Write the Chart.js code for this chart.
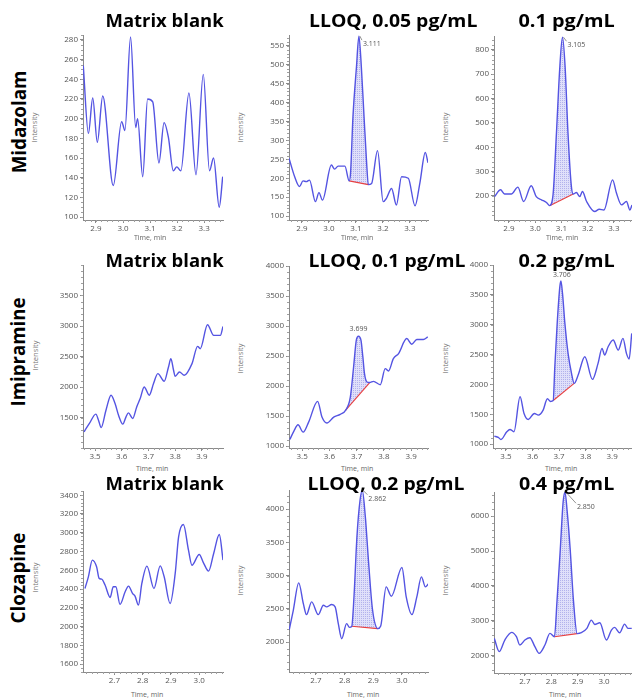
<!DOCTYPE html>
<html><head><meta charset="utf-8">
<script src="https://cdn.jsdelivr.net/npm/chart.js@4.4.1/dist/chart.umd.min.js"></script>
<style>
html,body{margin:0;padding:0;background:#fff;}
body{width:632px;height:698px;overflow:hidden;position:relative;font-family:'Open Sans',sans-serif;}
canvas{position:absolute;z-index:1;}
.tt{position:absolute;z-index:3;font-weight:700;font-size:18px;line-height:18px;white-space:nowrap;color:#000;transform-origin:50% 50%;}
.rl{position:absolute;z-index:3;font-weight:700;font-size:20px;line-height:20px;white-space:nowrap;color:#000;}
.it{position:absolute;z-index:2;font-size:6.5px;line-height:7px;color:#777;white-space:nowrap;}
.tm{position:absolute;z-index:2;font-size:7px;line-height:8px;color:#666;white-space:nowrap;}
</style></head>
<body>
<script>
// ---------------- DATA ----------------
const rowLabels = ['Midazolam', 'Imipramine', 'Clozapine'];
const panelTitles = ['Matrix blank', 'LLOQ, 0.05 pg/mL', '0.1 pg/mL',
                     'Matrix blank', 'LLOQ, 0.1 pg/mL', '0.2 pg/mL',
                     'Matrix blank', 'LLOQ, 0.2 pg/mL', '0.4 pg/mL'];
const xAxisTitle = 'Time, min';
const yAxisTitle = 'Intensity';

const timeTicksMidazolam = [2.9, 3.0, 3.1, 3.2, 3.3];
const timeTicksImipramine = [3.5, 3.6, 3.7, 3.8, 3.9];
const timeTicksClozapine = [2.7, 2.8, 2.9, 3.0];

// Midazolam, matrix blank
const midBlankTime = [2.853,2.872,2.888,2.905,2.925,2.964,2.995,3.007,3.028,3.047,3.054,3.073,3.091,3.110,3.133,3.152,3.168,3.186,3.199,3.214,3.244,3.270,3.297,3.320,3.335,3.356,3.369];
const midBlankIntensity = [254,185,221,176,223,132,197,188,283,191,200,141,220,217,155,196,181,147,151,147,226,143,245,147,160,110,141];
const midBlankYTicks = [100,120,140,160,180,200,220,240,260,280];

// Midazolam, LLOQ 0.05 pg/mL
const midLloqTime = [2.852,2.873,2.891,2.904,2.916,2.928,2.950,2.963,2.976,3.009,3.021,3.034,3.059,3.075,3.080,3.089,3.102,3.111,3.120,3.130,3.139,3.146,3.158,3.180,3.201,3.213,3.232,3.250,3.269,3.294,3.319,3.337,3.357,3.367];
const midLloqIntensity = [253,204,178,193,191,195,138,162,142,235,224,232,232,193,213,363,495,576,495,363,248,183,186,273,138,147,173,129,204,200,127,188,268,241];
const midLloqBaseTime = [3.075, 3.146];
const midLloqBaseIntensity = [193, 183];
const midLloqPeakLabel = '3.111';
const midLloqYTicks = [100,150,200,250,300,350,400,450,500,550];

// Midazolam, 0.1 pg/mL
const midHighTime = [2.845,2.868,2.883,2.909,2.934,2.956,2.985,3.004,3.024,3.043,3.055,3.068,3.081,3.094,3.104,3.114,3.125,3.138,3.145,3.157,3.170,3.180,3.196,3.227,3.244,3.262,3.295,3.310,3.329,3.348,3.361,3.369];
const midHighIntensity = [197,225,208,208,236,177,242,197,184,173,160,204,458,732,852,732,458,238,208,214,197,218,177,136,145,142,266,211,163,177,142,163];
const midHighBaseTime = [3.055, 3.145];
const midHighBaseIntensity = [160, 208];
const midHighPeakLabel = '3.105';
const midHighYTicks = [200,300,400,500,600,700,800];

// Imipramine, matrix blank
const imiBlankTime = [3.459,3.479,3.503,3.513,3.523,3.541,3.560,3.575,3.588,3.604,3.616,3.625,3.641,3.656,3.669,3.684,3.703,3.719,3.735,3.759,3.775,3.784,3.794,3.800,3.816,3.834,3.863,3.884,3.894,3.921,3.944,3.969,3.979];
const imiBlankIntensity = [1266,1402,1555,1456,1336,1620,1865,1729,1537,1391,1511,1576,1484,1674,1810,2001,1865,2056,2219,2094,2328,2465,2274,2176,2247,2192,2383,2666,2628,3020,2846,2846,2993];
const imiBlankYTicks = [1500,2000,2500,3000,3500];

// Imipramine, LLOQ 0.1 pg/mL
const imiLloqTime = [3.455,3.470,3.485,3.504,3.524,3.557,3.573,3.591,3.616,3.640,3.660,3.677,3.689,3.699,3.707,3.716,3.723,3.729,3.738,3.748,3.762,3.787,3.805,3.817,3.835,3.854,3.884,3.902,3.921,3.945,3.961];
const imiLloqIntensity = [1112,1251,1357,1234,1401,1746,1485,1385,1485,1530,1600,1818,2319,2765,2831,2765,2486,2208,2069,2060,2080,2024,2292,2253,2459,2542,2792,2698,2776,2776,2820];
const imiLloqBaseTime = [3.660, 3.748];
const imiLloqBaseIntensity = [1600, 2060];
const imiLloqPeakLabel = '3.699';
const imiLloqYTicks = [1000,1500,2000,2500,3000,3500,4000];

// Imipramine, 0.2 pg/mL
const imiHighTime = [3.456,3.471,3.481,3.503,3.515,3.530,3.553,3.568,3.584,3.607,3.622,3.640,3.656,3.668,3.678,3.684,3.693,3.703,3.707,3.713,3.722,3.734,3.747,3.757,3.772,3.797,3.826,3.847,3.862,3.872,3.885,3.904,3.923,3.941,3.954,3.964,3.974];
const imiHighIntensity = [1134,1112,1078,1207,1246,1207,1793,1514,1413,1514,1486,1570,1760,1715,1730,2296,3022,3637,3732,3525,3022,2520,2184,2017,2156,2464,2084,2352,2603,2492,2631,2743,2575,2771,2520,2425,2855];
const imiHighBaseTime = [3.678, 3.757];
const imiHighBaseIntensity = [1730, 2017];
const imiHighPeakLabel = '3.706';
const imiHighYTicks = [1000,1500,2000,2500,3000,3500,4000];

// Clozapine, matrix blank
const cloBlankTime = [2.596,2.608,2.622,2.637,2.646,2.655,2.667,2.685,2.696,2.705,2.720,2.738,2.750,2.764,2.773,2.785,2.797,2.815,2.840,2.862,2.876,2.897,2.915,2.927,2.944,2.962,2.974,3.000,3.015,3.033,3.051,3.071,3.084];
const cloBlankIntensity = [2406,2530,2708,2637,2513,2505,2442,2310,2424,2424,2236,2370,2431,2353,2324,2229,2459,2644,2406,2647,2530,2246,2566,2956,3088,2814,2654,2768,2679,2591,2779,2981,2708];
const cloBlankYTicks = [1600,1800,2000,2200,2400,2600,2800,3000,3200,3400];

// Clozapine, LLOQ 0.2 pg/mL
const cloLloqTime = [2.607,2.621,2.640,2.656,2.667,2.685,2.708,2.726,2.737,2.755,2.767,2.778,2.790,2.807,2.817,2.825,2.833,2.843,2.854,2.862,2.872,2.884,2.897,2.916,2.926,2.945,2.963,3.000,3.015,3.035,3.052,3.068,3.082,3.093];
const cloLloqIntensity = [2186,2477,2889,2578,2412,2603,2412,2553,2528,2563,2528,2276,2050,2276,2220,2236,2700,3580,4136,4276,3900,3180,2500,2201,2240,2829,2688,3121,2678,2412,2678,2980,2829,2879];
const cloLloqBaseTime = [2.825, 2.916];
const cloLloqBaseIntensity = [2236, 2201];
const cloLloqPeakLabel = '2.862';
const cloLloqYTicks = [2000,2500,3000,3500,4000];

// Clozapine, 0.4 pg/mL
const cloHighTime = [2.584,2.603,2.624,2.650,2.668,2.681,2.700,2.719,2.738,2.754,2.776,2.795,2.812,2.822,2.834,2.845,2.852,2.860,2.872,2.884,2.898,2.914,2.935,2.952,2.965,2.984,3.009,3.028,3.040,3.059,3.078,3.091,3.105];
const cloHighIntensity = [2504,2124,2456,2675,2551,2314,2456,2523,2266,2076,2314,2646,2550,3596,5021,6399,6680,6161,5021,3596,2640,2665,2790,3026,2902,2950,2456,2741,2817,2665,2912,2789,2789];
const cloHighBaseTime = [2.812, 2.898];
const cloHighBaseIntensity = [2550, 2640];
const cloHighPeakLabel = '2.850';
const cloHighYTicks = [2000,3000,4000,5000,6000];

// ---------------- LAYOUT / STYLE ----------------
const LINE = 'rgb(84,84,226)';
const BASE = 'rgb(232,64,64)';
const AX = '#8a8a8a';
const TK = '#555';
Chart.defaults.font.family = "'Open Sans', sans-serif";

function makePattern() {
  const c = document.createElement('canvas');
  c.width = 2; c.height = 2;
  const g = c.getContext('2d');
  g.fillStyle = 'rgb(224,224,250)'; g.fillRect(0, 0, 2, 2);
  g.fillStyle = 'rgb(178,178,236)'; g.fillRect(0, 0, 1, 1);
  return g.createPattern(c, 'repeat');
}
const pat = makePattern();

const panels = [
  {time: midBlankTime, inten: midBlankIntensity, xr: [2.852, 3.370], yr: [97, 285], xt: timeTicksMidazolam, yt: midBlankYTicks, box: [83, 35, 223, 220], minorY: 5},
  {time: midLloqTime, inten: midLloqIntensity, base: [midLloqBaseTime, midLloqBaseIntensity], label: midLloqPeakLabel, lab: {dx: 4, dy: 8, align: 'left', leader: true},
   xr: [2.852, 3.367], yr: [89.5, 579], xt: timeTicksMidazolam, yt: midLloqYTicks, box: [289, 35, 428, 220], minorY: 10},
  {time: midHighTime, inten: midHighIntensity, base: [midHighBaseTime, midHighBaseIntensity], label: midHighPeakLabel, lab: {dx: 5, dy: 8, align: 'left', leader: true},
   xr: [2.843, 3.369], yr: [101, 857], xt: timeTicksMidazolam, yt: midHighYTicks, box: [494, 36, 632, 220], minorY: 20},
  {time: imiBlankTime, inten: imiBlankIntensity, xr: [3.455, 3.979], yr: [1000, 4000], xt: timeTicksImipramine, yt: imiBlankYTicks, box: [83, 265, 223, 448], minorY: 100},
  {time: imiLloqTime, inten: imiLloqIntensity, base: [imiLloqBaseTime, imiLloqBaseIntensity], label: imiLloqPeakLabel, lab: {dx: 0, dy: -7, align: 'center', leader: false},
   xr: [3.452, 3.962], yr: [970, 4000], xt: timeTicksImipramine, yt: imiLloqYTicks, box: [289, 266, 428, 448], minorY: 100},
  {time: imiHighTime, inten: imiHighIntensity, base: [imiHighBaseTime, imiHighBaseIntensity], label: imiHighPeakLabel, lab: {dx: 1, dy: -6, align: 'center', leader: false},
   xr: [3.451, 3.975], yr: [935, 4000], xt: timeTicksImipramine, yt: imiHighYTicks, box: [493, 265, 632, 448], minorY: 100},
  {time: cloBlankTime, inten: cloBlankIntensity, xr: [2.589, 3.084], yr: [1515, 3445], xt: timeTicksClozapine, yt: cloBlankYTicks, box: [83, 491, 223, 672], minorY: 40},
  {time: cloLloqTime, inten: cloLloqIntensity, base: [cloLloqBaseTime, cloLloqBaseIntensity], label: cloLloqPeakLabel, lab: {dx: 6, dy: 8, align: 'left', leader: true},
   xr: [2.606, 3.091], yr: [1549, 4286], xt: timeTicksClozapine, yt: cloLloqYTicks, box: [289, 490, 428, 672], minorY: 100},
  {time: cloHighTime, inten: cloHighIntensity, base: [cloHighBaseTime, cloHighBaseIntensity], label: cloHighPeakLabel, lab: {dx: 12, dy: 15, align: 'left', leader: true},
   xr: [2.583, 3.106], yr: [1514, 6686], xt: timeTicksClozapine, yt: cloHighYTicks, box: [494, 492, 632, 673], minorY: 200}
];

const minorTicks = {
  id: 'minorTicks',
  afterDraw(chart, args, o) {
    const {ctx} = chart; const x = chart.scales.x, y = chart.scales.y;
    ctx.save(); ctx.strokeStyle = o.color; ctx.lineWidth = 1; ctx.beginPath();
    const n0 = Math.ceil(y.min / o.y), n1 = Math.floor(y.max / o.y);
    for (let n = n0; n <= n1; n++) { const py = Math.round(y.getPixelForValue(n * o.y)) + 0.5; ctx.moveTo(y.right - 2, py); ctx.lineTo(y.right, py); }
    const m0 = Math.ceil(x.min / o.x - 1e-6), m1 = Math.floor(x.max / o.x + 1e-6);
    for (let m = m0; m <= m1; m++) { const px = Math.round(x.getPixelForValue(m * o.x)) + 0.5; ctx.moveTo(px, x.top); ctx.lineTo(px, x.top + 2); }
    ctx.stroke(); ctx.restore();
  }
};

const peakLabel = {
  id: 'peakLabel',
  afterDatasetsDraw(chart, args, o) {
    if (!o.text) return;
    const d = chart.data.datasets[0].data;
    let k = 0; d.forEach((p, i) => { if (p.y > d[k].y) k = i; });
    const px = chart.scales.x.getPixelForValue(d[k].x), py = chart.scales.y.getPixelForValue(d[k].y);
    const {ctx} = chart;
    ctx.save();
    ctx.font = "7px 'Open Sans', sans-serif"; ctx.fillStyle = '#555'; ctx.textBaseline = 'middle'; ctx.textAlign = o.align;
    ctx.fillText(o.text, px + o.dx, py + o.dy);
    if (o.leader) {
      ctx.strokeStyle = '#777'; ctx.lineWidth = 0.8; ctx.beginPath();
      ctx.moveTo(px + 1, py); ctx.lineTo(px + o.dx - 1, py + o.dy - 4); ctx.stroke();
    }
    ctx.restore();
  }
};

function build(p) {
  const yW = 34, xH = 14, padT = 8, padR = 3;
  const [L, T, R, B] = p.box;
  const c = document.createElement('canvas');
  const w = R - L + yW + padR, h = B - T + padT + xH;
  c.width = w; c.height = h;
  c.style.left = (L - yW) + 'px'; c.style.top = (T - padT) + 'px';
  c.style.width = w + 'px'; c.style.height = h + 'px';
  document.body.appendChild(c);
  const pts = p.time.map((t, i) => ({x: t, y: p.inten[i]}));
  const ds = [{data: pts, borderColor: LINE, borderWidth: 1.4, pointRadius: 0, cubicInterpolationMode: 'monotone', fill: false, order: 0}];
  if (p.base) {
    const [bt, bv] = p.base;
    ds.push({data: bt.map((t, i) => ({x: t, y: bv[i]})), borderColor: BASE, borderWidth: 1.1, pointRadius: 0, fill: false, order: 1});
    ds.push({data: pts.filter(q => q.x >= bt[0] - 1e-9 && q.x <= bt[1] + 1e-9), borderWidth: 0, borderColor: 'rgba(0,0,0,0)',
             backgroundColor: pat, pointRadius: 0, cubicInterpolationMode: 'monotone', fill: 1, order: 2});
  }
  const lab = p.lab || {};
  new Chart(c, {
    type: 'line',
    data: {datasets: ds},
    plugins: [minorTicks, peakLabel],
    options: {
      responsive: false, animation: false, devicePixelRatio: 1,
      layout: {padding: {top: padT, right: padR, left: 0, bottom: 0}},
      plugins: {legend: {display: false}, tooltip: {enabled: false},
        minorTicks: {x: 0.02, y: p.minorY, color: '#a0a0a0'},
        peakLabel: {text: p.label, dx: lab.dx, dy: lab.dy, align: lab.align, leader: lab.leader}},
      scales: {
        x: {type: 'linear', bounds: 'data', min: p.xr[0], max: p.xr[1],
            afterBuildTicks: s => { s.ticks = p.xt.map(v => ({value: v})); },
            afterFit: s => { s.height = xH; },
            grid: {drawOnChartArea: false, drawTicks: true, tickLength: 3, color: AX},
            border: {display: true, color: AX, width: 1},
            ticks: {autoSkip: false, maxRotation: 0, padding: 1, color: TK, font: {size: 8}, callback: v => Number(v).toFixed(1)}},
        y: {type: 'linear', bounds: 'data', min: p.yr[0], max: p.yr[1],
            afterBuildTicks: s => { s.ticks = p.yt.map(v => ({value: v})); },
            afterFit: s => { s.width = yW; },
            grid: {drawOnChartArea: false, drawTicks: true, tickLength: 3, color: AX},
            border: {display: true, color: AX, width: 1},
            ticks: {padding: 2, color: TK, font: {size: 8}, callback: v => String(v)}}
      }
    }
  });
}
panels.forEach(build);

// ---------------- TEXT ----------------
function addText(cls, txt, cx, cy, w, rot) {
  const d = document.createElement('div');
  d.className = cls; d.textContent = txt;
  document.body.appendChild(d);
  const nw = d.offsetWidth, nh = d.offsetHeight;
  const k = w ? w / nw : 1;
  d.style.left = (cx - nw / 2) + 'px'; d.style.top = (cy - nh / 2) + 'px';
  d.style.transform = (rot ? 'rotate(-90deg) ' : '') + 'scaleX(' + k + ')';
  return d;
}
// titles: [centerX, baseline, width]
const titlePos = [[164, 27, 118], [393, 27, 168], [566, 27, 96],
                  [164, 267, 118], [387, 267, 157], [566, 267, 96],
                  [164, 490, 118], [386, 490, 157], [566, 490, 95]];
titlePos.forEach((q, i) => addText('tt', panelTitles[i], q[0], q[1] - 0.888 * 18 + 9, q[2], false));
const rowPos = [[19, 122, 103], [18, 352, 109], [18, 578, 91]];
rowPos.forEach((q, i) => addText('rl', rowLabels[i], q[0], q[1], q[2], true));
const intPos = [[34, 127], [240, 127], [445, 127], [35, 355], [240, 358], [445, 358], [35, 577], [240, 580], [445, 580]];
intPos.forEach(q => addText('it', yAxisTitle, q[0], q[1], 30, true));
const timePos = [[150, 238], [357, 238], [562, 238], [152, 469], [357, 469], [561, 469], [147, 695], [363, 695], [565, 695]];
timePos.forEach(q => addText('tm', xAxisTitle, q[0], q[1], 0, false));
</script>
</body></html>
